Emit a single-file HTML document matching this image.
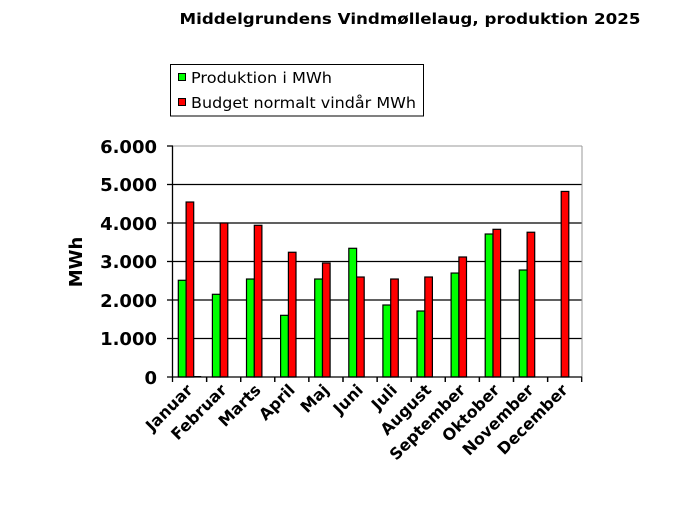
<!DOCTYPE html>
<html><head><meta charset="utf-8"><style>body{margin:0;background:#fff}svg{display:block}</style></head><body>
<svg width="676" height="507" xmlns="http://www.w3.org/2000/svg" font-family="DejaVu Sans, Liberation Sans, sans-serif">
<rect width="676" height="507" fill="#fff"/>
<text x="410" y="24" font-size="15" font-weight="bold" text-anchor="middle" textLength="461" lengthAdjust="spacingAndGlyphs">Middelgrundens Vindmøllelaug,  produktion 2025</text>
<rect x="170.5" y="64.5" width="253" height="51.5" fill="#fff" stroke="#000"/>
<rect x="178.5" y="73.5" width="7" height="7" fill="#00ff00" stroke="#000"/>
<rect x="178.5" y="98.5" width="7" height="7" fill="#ff0000" stroke="#000"/>
<text x="191" y="83" font-size="15.5" textLength="141" lengthAdjust="spacingAndGlyphs">Produktion i MWh</text>
<text x="191" y="108" font-size="15.5" textLength="225" lengthAdjust="spacingAndGlyphs">Budget normalt vindår MWh</text>
<line x1="173" y1="146" x2="582" y2="146" stroke="#999" stroke-width="1"/>
<g stroke="#000" stroke-width="1.3">
<line x1="173" y1="184.5" x2="582" y2="184.5"/>
<line x1="173" y1="223" x2="582" y2="223"/>
<line x1="173" y1="261.5" x2="582" y2="261.5"/>
<line x1="173" y1="300" x2="582" y2="300"/>
<line x1="173" y1="338.5" x2="582" y2="338.5"/>
</g>
<line x1="582" y1="146" x2="582" y2="377" stroke="#999"/>
<g font-size="18" font-weight="bold" text-anchor="end">
<text x="157" y="153">6.000</text><text x="157" y="191">5.000</text><text x="157" y="230">4.000</text>
<text x="157" y="268">3.000</text><text x="157" y="307">2.000</text><text x="157" y="345">1.000</text><text x="157" y="384">0</text>
</g>
<text transform="translate(82,262) rotate(-90)" font-size="18" font-weight="bold" text-anchor="middle">MWh</text>
<g id="bars" stroke="#000" stroke-width="1.2"></g>
<rect x="193.7" y="376" width="7.5" height="1" fill="#000"/>
<g stroke="#000" stroke-width="1.3">
<line x1="172.5" y1="146" x2="172.5" y2="377"/>
<line x1="167" y1="146" x2="173" y2="146"/><line x1="167" y1="184.5" x2="173" y2="184.5"/><line x1="167" y1="223" x2="173" y2="223"/><line x1="167" y1="261.5" x2="173" y2="261.5"/><line x1="167" y1="300" x2="173" y2="300"/><line x1="167" y1="338.5" x2="173" y2="338.5"/>
<line x1="167" y1="377" x2="582" y2="377"/>
</g>
<g id="ticks" stroke="#000" stroke-width="1.3"></g>
<g id="labels" font-size="16" font-weight="bold" text-anchor="end"></g>
<script>
var g=[2512,2148,2545,1602,2545,3343,1870,1714,2700,3714,2779,0];
var r=[4545,4000,3940,3240,2961,2597,2545,2597,3117,3836,3760,4820];
var n=["Januar","Februar","Marts","April","Maj","Juni","Juli","August","September","Oktober","November","December"];
var w=34.1,x0=172.5,b=377,s=0.0385,ns="http://www.w3.org/2000/svg";
var B=document.getElementById("bars"),T=document.getElementById("ticks"),L=document.getElementById("labels");
function el(t,a,p){var e=document.createElementNS(ns,t);for(var k in a)e.setAttribute(k,a[k]);p.appendChild(e);return e;}
for(var i=0;i<12;i++){var c=x0+i*w;
if(g[i])el("rect",{x:c+5.8,y:b-g[i]*s,width:7.8,height:g[i]*s,fill:"#00ff00"},B);
el("rect",{x:c+13.6,y:b-r[i]*s,width:7.6,height:r[i]*s,fill:"#ff0000"},B);
el("line",{x1:c+w,y1:377,x2:c+w,y2:382},T);el("line",{x1:c,y1:377,x2:c,y2:382},T);
var t=el("text",{transform:"translate("+(c+w/2+4)+",391) rotate(-45)"},L);t.textContent=n[i];}
</script>
</svg>
</body></html>
